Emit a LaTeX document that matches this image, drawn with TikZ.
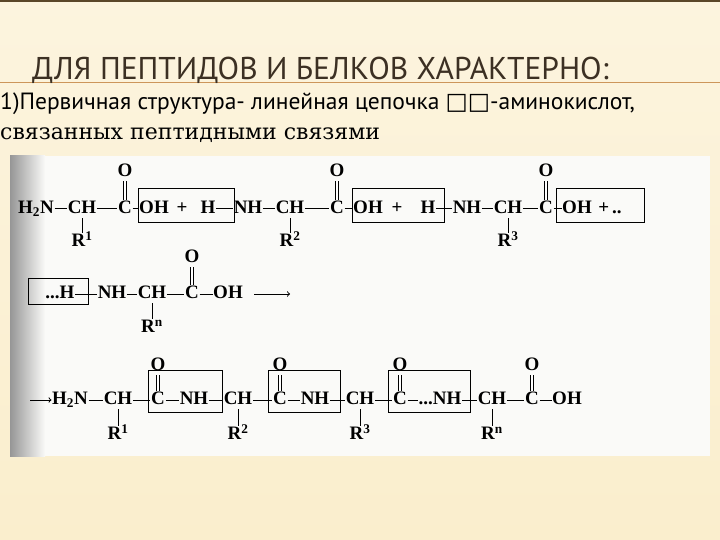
\documentclass[tikz,border=0pt]{standalone}
\usepackage{fontspec}
\setmainfont{Liberation Serif}
\newfontfamily\ptsans{PT Sans}
\newfontfamily\dvserif{DejaVu Serif}
\newfontfamily\dejavu{DejaVu Sans}
\begin{document}
\begin{tikzpicture}[x=1pt,y=-1pt,
  a/.style={inner sep=0.5pt,text height=13pt,text depth=4pt,font=\bfseries\fontsize{19}{19}\selectfont},
  bd/.style={line width=1pt},
  bx/.style={draw,line width=1pt},
  dbl/.style={double,double distance=1.8pt,line width=0.8pt}]
\useasboundingbox (0,0) rectangle (720,540);
\fill[top color={rgb,255:red,252;green,244;blue,222},bottom color={rgb,255:red,250;green,238;blue,205}] (0,0) rectangle (720,540);
\draw[line width=1.5pt,color={rgb,255:red,90;green,70;blue,40}] (0,1) -- (720,1);
\draw[line width=0.8pt,color={rgb,255:red,205;green,150;blue,90}] (0,82) -- (720,82);
\node[anchor=base west,inner sep=0,text={rgb,255:red,60;green,48;blue,35},font=\ptsans\fontsize{31.5}{31.5}\selectfont] (title) at (32,80) {ДЛЯ ПЕПТИДОВ И БЕЛКОВ ХАРАКТЕРНО:};
\node[anchor=base west,inner sep=0,font=\ptsans\fontsize{23.5}{23.5}\selectfont] (l1) at (0,110) {1)Первичная структура- линейная цепочка {\dejavu □□}-аминокислот,};
\node[anchor=base west,inner sep=0,font=\dvserif\fontsize{22}{22}\selectfont] (l2) at (0,140) {связанных пептидными связями};
% scan area
\fill[color={rgb,255:red,250;green,250;blue,248}] (10,156) rectangle (710,456);
\fill[left color={rgb,255:red,150;green,150;blue,150},right color={rgb,255:red,250;green,250;blue,248}] (10,156) rectangle (45,456);
% row 1
\begin{scope}[every node/.style=a]
\node (a1) at (36,209) {H\textsubscript{2}N};
\node (a2) at (82,209) {CH};
\node (a3) at (125,209) {C};
\node (a4) at (154,209) {OH};
\node (a5) at (182,209) {+};
\node (a6) at (208,209) {H};
\node (a7) at (248,209) {NH};
\node (a8) at (290,209) {CH};
\node (a9) at (337,209) {C};
\node (a10) at (368,209) {OH};
\node (a11) at (397,209) {+};
\node (a12) at (428,209) {H};
\node (a13) at (467,209) {NH};
\node (a14) at (508,209) {CH};
\node (a15) at (546,209) {C};
\node (a16) at (577,209) {OH};
\node (a17) at (610,209) {+\,..};
\node (o1) at (125,172) {O};
\node (o2) at (337,172) {O};
\node (o3) at (546,172) {O};
\node (r1) at (82,242) {R\textsuperscript{1}};
\node (r2) at (290,242) {R\textsuperscript{2}};
\node (r3) at (508,242) {R\textsuperscript{3}};
\end{scope}
\draw[bd] (a1)--(a2) (a2)--(a3) (a3)--(a4) (a6)--(a7) (a7)--(a8) (a8)--(a9) (a9)--(a10) (a12)--(a13) (a13)--(a14) (a14)--(a15) (a15)--(a16);
\draw[bd] (a2)--(r1) (a8)--(r2) (a14)--(r3);
\draw[dbl] (a3)--(o1) (a9)--(o2) (a15)--(o3);
\node[bx,inner sep=0,minimum width=96,minimum height=34] (b1) at (186,206) {};
\node[bx,inner sep=0,minimum width=92,minimum height=34] (b2) at (398,206) {};
\node[bx,inner sep=0,minimum width=88,minimum height=34] (b3) at (600,206) {};
% row 2
\begin{scope}[every node/.style=a]
\node (c1) at (60,294) {...H};
\node (c2) at (112,294) {NH};
\node (c3) at (152,294) {CH};
\node (c4) at (192,294) {C};
\node (c5) at (228,294) {OH};
\coordinate (c6) at (254,294);
\coordinate (c7) at (290,294);
\node (o4) at (192,258) {O};
\node (r4) at (152,328) {R\textsuperscript{n}};
\end{scope}
\node[bx,inner sep=0,minimum width=60,minimum height=26] (b4) at (58,291) {};
\draw[bd] (c1)--(c2) (c2)--(c3) (c3)--(c4) (c4)--(c5) (c3)--(r4);
\draw[dbl] (c4)--(o4);
\draw[bd,->] (c6)--(c7);
% row 3
\begin{scope}[every node/.style=a]
\coordinate (d0) at (30,400);
\node (d1) at (70,400) {H\textsubscript{2}N};
\node (d2) at (118,400) {CH};
\node (d3) at (158,400) {C};
\node (d4) at (194,400) {NH};
\node (d5) at (238,400) {CH};
\node (d6) at (280,400) {C};
\node (d7) at (315,400) {NH};
\node (d8) at (360,400) {CH};
\node (d9) at (400,400) {C};
\node (d10) at (440,400) {...NH};
\node (d11) at (492,400) {CH};
\node (d12) at (532,400) {C};
\node (d13) at (567,400) {OH};
\node (o5) at (158,366) {O};
\node (o6) at (280,366) {O};
\node (o7) at (400,366) {O};
\node (o8) at (532,366) {O};
\node (r5) at (118,435) {R\textsuperscript{1}};
\node (r6) at (238,435) {R\textsuperscript{2}};
\node (r7) at (360,435) {R\textsuperscript{3}};
\node (r8) at (492,435) {R\textsuperscript{n}};
\end{scope}
\draw[bd,->] (d0)--(d1);
\draw[bd] (d1)--(d2) (d2)--(d3) (d3)--(d4) (d4)--(d5) (d5)--(d6) (d6)--(d7) (d7)--(d8) (d8)--(d9) (d9)--(d10) (d10)--(d11) (d11)--(d12) (d12)--(d13);
\draw[bd] (d2)--(r5) (d5)--(r6) (d8)--(r7) (d11)--(r8);
\draw[dbl] (d3)--(o5) (d6)--(o6) (d9)--(o7) (d12)--(o8);
\node[bx,inner sep=0,minimum width=74,minimum height=42] (b5) at (185,391) {};
\node[bx,inner sep=0,minimum width=72,minimum height=42] (b6) at (304,391) {};
\node[bx,inner sep=0,minimum width=82,minimum height=42] (b7) at (429,391) {};
\end{tikzpicture}
\end{document}
